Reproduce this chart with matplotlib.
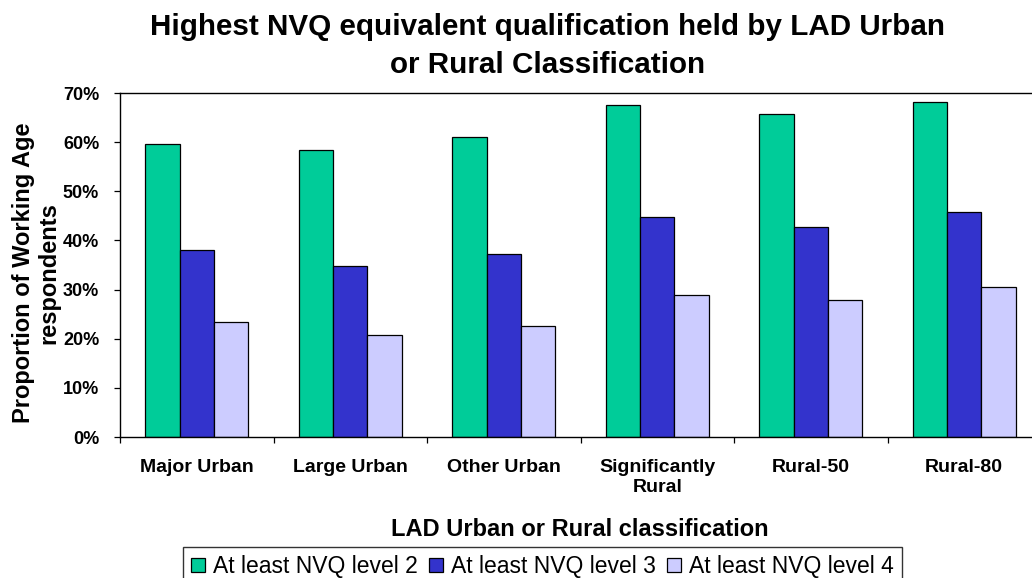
import matplotlib.pyplot as plt
import numpy as np
from matplotlib.ticker import FixedLocator, PercentFormatter

plt.rcParams["font.family"] = ["Liberation Sans", "DejaVu Sans"]

# Values (percent of working age respondents)
categories = ["Major Urban", "Large Urban", "Other Urban",
              "Significantly\nRural", "Rural-50", "Rural-80"]
nvq2 = [59.6, 58.5, 61.0, 67.6, 65.8, 68.1]
nvq3 = [38.0, 34.7, 37.2, 44.8, 42.8, 45.8]
nvq4 = [23.3, 20.8, 22.6, 28.8, 27.9, 30.6]
series_labels = ["At least NVQ level 2", "At least NVQ level 3",
                 "At least NVQ level 4"]
colors = ["#00CC99", "#3333CC", "#CCCCFF"]

W, H = 1032, 578
fig = plt.figure(figsize=(W / 100, H / 100), dpi=100)
# plot area runs slightly past the right edge, as in the cropped original
ax = fig.add_axes([120 / W, 1 - 437 / H, (1041 - 120) / W, (437 - 93) / H])

x = np.arange(len(categories))
width = 0.224
for i, (vals, lab, col) in enumerate(zip([nvq2, nvq3, nvq4], series_labels, colors)):
    ax.bar(x + (i - 1) * width, vals, width, color=col, edgecolor="black",
           linewidth=0.9, label=lab)

ax.set_xlim(-0.5, len(categories) - 0.5)
ax.set_ylim(0, 70)
ax.set_yticks(np.arange(0, 71, 10))
ax.yaxis.set_major_formatter(PercentFormatter(decimals=0))
ax.tick_params(axis="y", direction="out", length=4, width=0.9, pad=11,
               labelsize=13)
for t in ax.get_yticklabels():
    t.set_fontweight("bold")

ax.set_xticks(x)
ax.set_xticklabels(categories, fontsize=14, fontweight="bold")
ax.tick_params(axis="x", which="major", length=0, pad=16)
ax.xaxis.set_minor_locator(FixedLocator(np.arange(-0.5, len(categories), 1)))
ax.tick_params(axis="x", which="minor", direction="out", length=4, width=0.9)

for s in ax.spines.values():
    s.set_linewidth(1.0)

fig.text(548 / W, 1 - 46 / H,
         "Highest NVQ equivalent qualification held by LAD Urban\nor Rural Classification",
         ha="center", va="center", fontsize=21.3, fontweight="bold",
         linespacing=1.45)
fig.text(36 / W, 1 - 273 / H, "Proportion of Working Age\nrespondents",
         rotation=90, ha="center", va="center", fontsize=17,
         fontweight="bold", linespacing=1.15)
fig.text(580 / W, 1 - 530 / H, "LAD Urban or Rural classification",
         ha="center", va="center", fontsize=17, fontweight="bold")

leg = fig.legend(loc="upper center", bbox_to_anchor=(542.5 / W, 1 - 547 / H),
                 ncol=3, fontsize=16.5, frameon=True, fancybox=False,
                 handlelength=0.6, handleheight=0.6, handletextpad=0.35,
                 columnspacing=0.5, borderpad=0.35, borderaxespad=0)
leg.get_frame().set_edgecolor("black")
leg.get_frame().set_linewidth(1.0)

fig.savefig("out.png", dpi=100)
